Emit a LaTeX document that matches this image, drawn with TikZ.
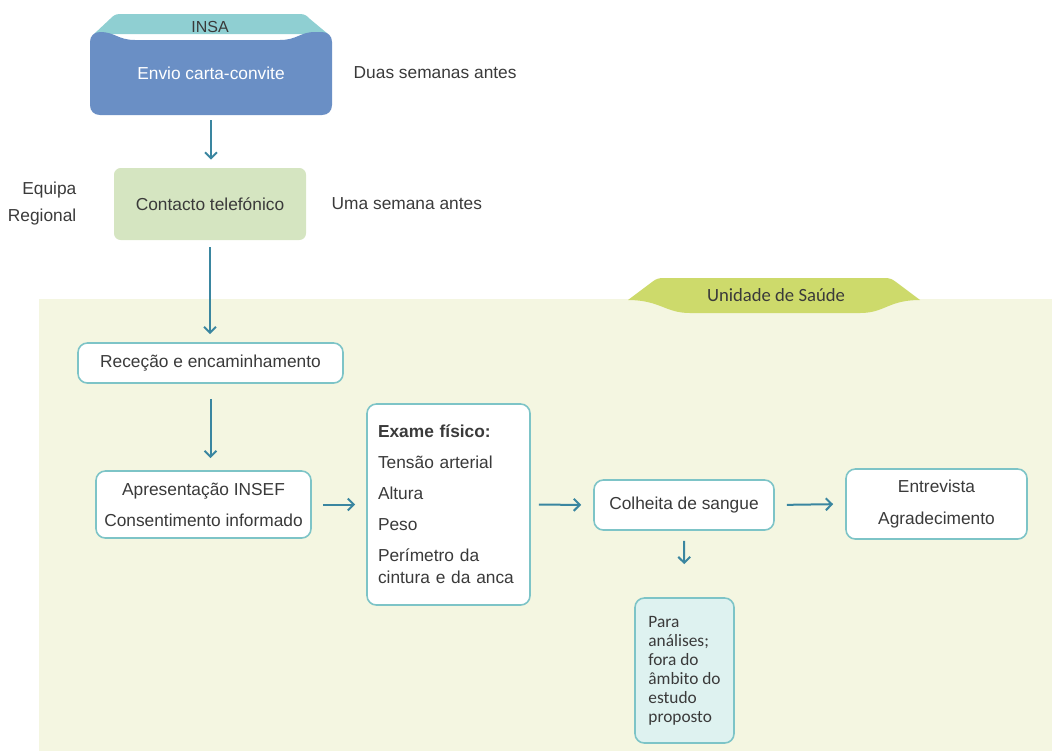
\documentclass[tikz,border=0pt]{standalone}
\usepackage{fontspec}
\setmainfont{Liberation Sans}
\newfontfamily\calfont{Carlito}
\usetikzlibrary{arrows.meta}
\definecolor{insablue}{HTML}{6A8FC5}
\definecolor{insateal}{HTML}{8FCFD2}
\definecolor{boxgreen}{HTML}{D5E5C1}
\definecolor{panelbg}{HTML}{F4F6E1}
\definecolor{tabgreen}{HTML}{CDDA6B}
\definecolor{bordteal}{HTML}{7DC4C7}
\definecolor{arrteal}{HTML}{3A86A0}
\definecolor{parafill}{HTML}{DEF2F0}
\definecolor{txt}{HTML}{3A3A3A}
\tikzset{
  txtstyle/.style={text=txt, font=\fontsize{13}{16}\selectfont},
  whitebox/.style={txtstyle, draw=bordteal, line width=1.2pt, fill=white, rounded corners=7pt, align=center, inner sep=0pt},
  arr/.style={draw=arrteal, line width=1.5pt, -{Straight Barb[length=4.5pt,width=9pt,line width=1.5pt]}},
}
\begin{document}
\begin{tikzpicture}[x=0.75pt,y=-0.75pt]
\path[use as bounding box] (0,0) rectangle (1052,751);
% panel
\fill[panelbg] (39,299) rectangle (1052,751);
% Unidade de Saude tab
\fill[tabgreen] (628,300) -- (652,282) .. controls (656,279) and (658,278) .. (664,278) -- (884,278) .. controls (890,278) and (892,279) .. (896,282) -- (920,300) .. controls (888,300) and (885,313) .. (860,313) -- (690,313) .. controls (665,313) and (660,300) .. (628,300) -- cycle;
\node[text=txt, font=\calfont\fontsize{14}{16}\selectfont] (unid) at (776,295) {Unidade de Saúde};
% INSA
\fill[insateal] (94,34) -- (110,19) .. controls (113,16) and (115,14) .. (120,14) -- (300,14) .. controls (305,14) and (307,16) .. (310,19) -- (328,34) -- cycle;
\fill[insablue] (100,32) .. controls (115,32) and (118,40) .. (135,40) -- (280,40) .. controls (297,40) and (300,32) .. (315,32) -- (322,32) .. controls (328,32) and (332,36) .. (332,42) -- (332,105) .. controls (332,111) and (328,115) .. (322,115) -- (100,115) .. controls (94,115) and (90,111) .. (90,105) -- (90,42) .. controls (90,36) and (94,32) .. (100,32) -- cycle;
\node[text=txt, font=\fontsize{12}{14}\selectfont] (insalabel) at (210,27) {INSA};
\node[minimum width=181.5pt, minimum height=62.25pt, inner sep=0pt, text=white, font=\fontsize{13}{16}\selectfont] (insa) at (211,73.5) {Envio carta-convite};
\node[txtstyle, anchor=west] (duas) at (349,73) {Duas semanas antes};
% Contacto
\node[txtstyle, fill=boxgreen, rounded corners=5pt, minimum width=144pt, minimum height=54pt, inner sep=0pt] (contacto) at (210,204) {Contacto telefónico};
\node[txtstyle, anchor=west] (uma) at (327,204) {Uma semana antes};
\node[txtstyle, anchor=east, align=right, font=\fontsize{13}{20.25}\selectfont] (equipa) at (81,204) {Equipa\\Regional};
% boxes in panel
\node[whitebox, minimum width=198.75pt, minimum height=30pt] (recep) at (210.5,363) {Receção e encaminhamento};
\node[whitebox, minimum width=161.25pt, minimum height=50.25pt, font=\fontsize{13}{23.25}\selectfont] (apres) at (203.5,504.5) {Apresentação INSEF\\Consentimento informado};
\node[whitebox, minimum height=150.75pt, text width=105.75pt, inner xsep=8.25pt, align=left, font=\fontsize{13}{16.5}\selectfont] (exame) at (448.5,504.5) {\textbf{Exame físico:}\\[6.75pt]Tensão arterial\\[6.75pt]Altura\\[6.75pt]Peso\\[6.75pt]Perímetro da\\cintura e da anca};
\node[whitebox, minimum width=135pt, minimum height=37.5pt] (colheita) at (684,505) {Colheita de sangue};
\node[whitebox, minimum width=135.75pt, minimum height=52.5pt, font=\fontsize{13}{24}\selectfont] (entrev) at (936.5,504) {Entrevista\\Agradecimento};
\node[whitebox, fill=parafill, minimum width=74.25pt, minimum height=108.75pt, align=left, font=\calfont\fontsize{13}{14.25}\selectfont] (para) at (684.5,670.5) {Para\\análises;\\fora do\\âmbito do\\estudo\\proposto};
% arrows
\draw[arr, shorten <=3.75pt, shorten >=6pt] (insa.south) -- (insa.south |- contacto.north);
\draw[arr, shorten <=5.25pt, shorten >=6pt] (contacto.south) -- (contacto.south |- recep.north);
\draw[arr, shorten <=11.25pt, shorten >=9pt] (recep.south) -- (recep.south |- apres.north);
\draw[arr, shorten <=8.25pt, shorten >=8.25pt] (apres.east) -- (exame.west);
\draw[arr, shorten <=6pt, shorten >=9pt] (exame.east) -- (colheita.west);
\draw[arr, shorten <=9pt, shorten >=9pt] (colheita.east) -- (entrev.west);
\draw[arr, shorten <=7.5pt, shorten >=24.75pt] (colheita.south) -- (para.north);
\end{tikzpicture}
\end{document}
